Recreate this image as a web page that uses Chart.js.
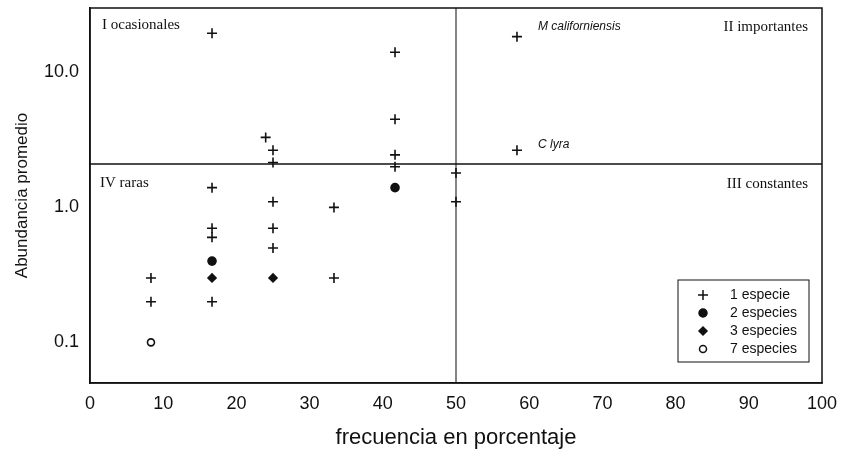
<!DOCTYPE html>
<html lang="es">
<head>
<meta charset="UTF-8">
<title>Abundancia vs frecuencia</title>
<script src="https://cdn.jsdelivr.net/npm/chart.js"></script>
<style>
  html, body { margin: 0; padding: 0; background: #fff; }
  #wrap { width: 842px; height: 451px; }
</style>
</head>
<body>
<div id="wrap"><canvas id="chart" width="842" height="451"></canvas></div>
<script>
// data: x = frecuencia (%), y = abundancia promedio
const freq1 = [8.33, 8.33, 16.67, 16.67, 16.67, 16.67, 16.67, 24, 25, 25, 25, 25, 25, 33.33, 33.33, 41.67, 41.67, 41.67, 41.67, 50, 50, 58.33, 58.33];
const abund1 = [0.3, 0.2, 19.5, 1.4, 0.7, 0.6, 0.2, 3.3, 2.65, 2.15, 1.1, 0.7, 0.5, 1.0, 0.3, 14.1, 4.5, 2.45, 2.0, 1.8, 1.1, 18.4, 2.65];
const freq2 = [16.67, 41.67];
const abund2 = [0.4, 1.4];
const freq3 = [16.67, 25];
const abund3 = [0.3, 0.3];
const freq7 = [8.33];
const abund7 = [0.1];

const seriesLabels = ['1 especie', '2 especies', '3 especies', '7 especies'];
const quadrantLabels = ['I ocasionales', 'II importantes', 'III constantes', 'IV raras'];
const speciesNames = ['M californiensis', 'C lyra'];
const speciesFreq = [58.33, 58.33];
const speciesAbund = [18.4, 2.65];

const splitX = 50;
const splitY = 2.1;
const xTicks = [0, 10, 20, 30, 40, 50, 60, 70, 80, 90, 100];
const yTickValues = [0.1, 1, 10];
const yTickLabels = ['0.1', '1.0', '10.0'];

function pts(xs, ys) {
    return xs.map((x, i) => ({ x: x, y: ys[i] }));
}

const markers = [
    { pointStyle: 'cross', radius: 5, fill: false },
    { pointStyle: 'circle', radius: 4, fill: true },
    { pointStyle: 'rectRot', radius: 4, fill: true },
    { pointStyle: 'circle', radius: 3.5, fill: false }
];
const seriesData = [pts(freq1, abund1), pts(freq2, abund2), pts(freq3, abund3), pts(freq7, abund7)];

const datasets = seriesData.map((d, i) => ({
    type: 'scatter',
    label: seriesLabels[i],
    data: d,
    pointStyle: markers[i].pointStyle,
    pointRadius: markers[i].radius,
    borderColor: '#111',
    backgroundColor: markers[i].fill ? '#111' : '#fff',
    pointBorderWidth: 1.6
}));

// the two dividing lines
datasets.push({
    type: 'line', label: 'hline',
    data: [{ x: 0, y: splitY }, { x: 100, y: splitY }],
    borderColor: '#111', borderWidth: 1.5, pointRadius: 0
});
datasets.push({
    type: 'line', label: 'vline',
    data: [{ x: splitX, y: 0.05 }, { x: splitX, y: 30 }],
    borderColor: '#333', borderWidth: 1.2, pointRadius: 0
});

// frame, quadrant labels, species names and legend inside the plot
const extras = {
    id: 'extras',
    afterDatasetsDraw(chart) {
        const ctx = chart.ctx;
        const a = chart.chartArea;
        const xs = chart.scales.x, ys = chart.scales.y;
        ctx.save();
        ctx.strokeStyle = '#111';
        ctx.lineWidth = 1.5;
        ctx.strokeRect(a.left, a.top, a.right - a.left, a.bottom - a.top);

        ctx.fillStyle = '#111';
        ctx.font = '15px "Liberation Serif", serif';
        ctx.textBaseline = 'middle';
        ctx.textAlign = 'left';
        ctx.fillText(quadrantLabels[0], a.left + 12, a.top + 17);
        ctx.fillText(quadrantLabels[3], a.left + 10, a.top + 175);
        ctx.textAlign = 'right';
        ctx.fillText(quadrantLabels[1], a.right - 14, a.top + 19);
        ctx.fillText(quadrantLabels[2], a.right - 14, a.top + 176);

        ctx.font = 'italic 12px "Liberation Sans", Arial, sans-serif';
        ctx.textAlign = 'left';
        const dy = [-10, -6];
        speciesNames.forEach((n, i) => {
            const px = xs.getPixelForValue(speciesFreq[i]);
            const py = ys.getPixelForValue(speciesAbund[i]);
            ctx.fillText(n, px + 21, py + dy[i]);
        });

        // legend box
        const bx = a.right - 144, by = a.bottom - 103, bw = 131, bh = 82;
        ctx.fillStyle = '#fff';
        ctx.fillRect(bx, by, bw, bh);
        ctx.lineWidth = 1;
        ctx.strokeRect(bx, by, bw, bh);
        ctx.font = '14px "Liberation Sans", Arial, sans-serif';
        ctx.textAlign = 'left';
        seriesLabels.forEach((lab, i) => {
            const ry = by + 15 + i * 18;
            const m = markers[i];
            ctx.fillStyle = m.fill ? '#111' : '#fff';
            ctx.strokeStyle = '#111';
            ctx.lineWidth = 1.5;
            Chart.helpers.drawPoint(ctx, { pointStyle: m.pointStyle, radius: m.radius, borderWidth: 1.5, rotation: 0 }, bx + 25, ry);
            ctx.fillStyle = '#111';
            ctx.fillText(lab, bx + 52, ry);
        });
        ctx.restore();
    }
};

Chart.defaults.font.family = '"Liberation Sans", Arial, sans-serif';
Chart.defaults.color = '#111';

new Chart(document.getElementById('chart'), {
    data: { datasets: datasets },
    options: {
        responsive: false,
        animation: false,
        layout: { padding: { top: 8, right: 20, left: 0, bottom: 0 } },
        plugins: { legend: { display: false }, tooltip: { enabled: false } },
        scales: {
            x: {
                type: 'linear', min: 0, max: 100,
                afterBuildTicks: s => { s.ticks = xTicks.map(v => ({ value: v })); },
                afterFit: s => { s.height = 68; s.paddingLeft = 0; s.paddingRight = 0; },
                grid: { display: false, drawTicks: false },
                border: { display: true, color: '#111', width: 1.5 },
                ticks: { padding: 10, font: { size: 18 }, color: '#111' },
                title: { display: true, text: 'frecuencia en porcentaje', font: { size: 22 }, color: '#111', padding: { top: 4, bottom: 0 } }
            },
            y: {
                type: 'logarithmic', min: 0.05, max: 30,
                afterBuildTicks: s => { s.ticks = yTickValues.map(v => ({ value: v })); },
                afterFit: s => { s.width = 90; s.paddingTop = 0; s.paddingBottom = 0; },
                grid: { display: false, drawTicks: false },
                border: { display: true, color: '#111', width: 1.5 },
                ticks: {
                    padding: 11, font: { size: 18 }, color: '#111',
                    callback: (v) => { const i = yTickValues.indexOf(v); return i >= 0 ? yTickLabels[i] : ''; }
                },
                title: { display: true, text: 'Abundancia promedio', font: { size: 17 }, color: '#111', padding: { top: 12, bottom: 0 } }
            }
        }
    },
    plugins: [extras]
});
</script>
</body>
</html>
